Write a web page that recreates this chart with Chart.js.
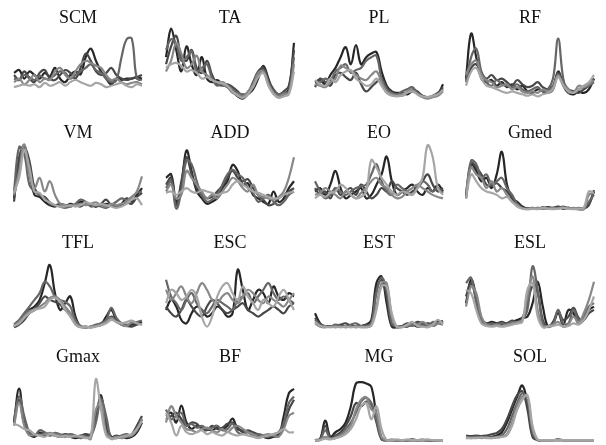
<!DOCTYPE html>
<html>
<head>
<meta charset="utf-8">
<script src="https://cdn.jsdelivr.net/npm/chart.js@4"></script>
<style>
  html, body { margin: 0; padding: 0; background: #fff; }
  #wrap { position: relative; width: 606px; height: 445px; overflow: hidden; }
  #wrap canvas { position: absolute; }
</style>
</head>
<body>
<div id="wrap"></div>
<script>
// % of gait cycle, one sample every 4%
const cycle = [0,4,8,12,16,20,24,28,32,36,40,44,48,52,56,60,64,68,72,76,80,84,88,92,96,100];

const muscles = ['SCM','TA','PL','RF','VM','ADD','EO','Gmed','TFL','ESC','EST','ESL','Gmax','BF','MG','SOL'];

// normalised activation (0-100) per subject, five subjects per muscle
const SCM = [
  [38,42,30,40,35,30,38,33,45,30,25,35,40,36,60,72,55,40,30,22,30,28,30,30,32,30],
  [35,28,40,30,25,38,42,30,28,35,42,38,30,45,65,55,40,35,38,45,35,30,28,30,32,35],
  [30,28,35,32,28,34,30,30,35,40,38,30,35,40,45,50,42,38,30,25,28,60,85,86,30,28],
  [25,30,22,28,35,25,30,28,40,45,35,30,40,50,55,52,48,45,35,28,30,25,22,24,25,22],
  [18,20,22,20,22,18,24,20,22,25,20,25,28,25,22,20,24,22,18,20,22,24,20,18,22,20]
];
const TA = [
  [60,100,70,40,75,50,35,60,30,25,28,22,18,12,5,2,8,15,30,48,30,10,5,8,15,80],
  [50,75,90,60,55,70,45,38,55,35,22,20,22,18,12,5,10,25,40,45,28,15,8,12,20,70],
  [70,85,78,55,60,68,40,45,50,30,20,25,20,15,10,8,10,20,35,42,25,12,8,10,12,60],
  [40,55,80,65,45,50,62,40,35,28,25,22,18,10,8,5,12,22,38,40,22,10,5,8,10,50],
  [45,50,52,48,40,42,38,30,32,28,25,24,20,12,6,3,8,18,32,38,20,8,3,5,8,40]
];
const PL = [
  [25,28,22,35,45,60,74,50,77,50,60,65,67,40,20,12,10,10,8,12,10,6,4,5,8,22],
  [18,30,25,20,35,38,32,28,38,22,12,18,25,30,18,10,8,6,10,15,12,5,3,6,10,18],
  [20,25,30,28,40,45,50,38,42,45,55,60,62,30,15,10,8,12,15,18,10,5,3,5,8,15],
  [22,20,18,25,30,48,45,40,35,30,28,35,40,25,12,8,6,8,12,14,8,4,2,4,6,12],
  [28,22,20,30,25,35,40,42,30,25,20,22,30,20,10,6,5,6,10,12,8,5,4,6,8,14]
];
const RF = [
  [30,93,60,30,25,28,20,25,18,22,15,20,12,10,15,12,10,15,40,20,10,8,12,10,15,30],
  [28,45,50,38,30,35,28,30,25,20,28,22,18,20,25,18,15,20,38,25,15,12,10,15,20,30],
  [25,60,72,40,25,20,28,22,20,18,22,15,12,15,18,12,15,30,86,30,10,12,15,18,20,25],
  [35,50,55,35,28,25,18,20,22,15,18,12,10,12,10,15,12,18,35,22,15,10,20,18,22,28],
  [20,40,45,30,20,18,15,12,10,12,10,8,6,8,5,8,10,15,32,20,12,10,15,20,25,35]
];
const VM = [
  [20,70,98,60,25,22,15,10,8,10,8,12,10,15,12,10,8,10,12,10,8,12,20,15,25,35],
  [15,80,95,75,35,25,22,14,10,12,10,8,10,8,12,10,8,12,18,10,8,10,14,12,22,28],
  [30,95,85,40,30,25,20,12,10,8,6,8,12,18,15,8,10,8,6,10,15,20,18,22,28,30],
  [25,60,99,55,35,50,30,45,25,12,10,8,10,12,10,12,14,10,8,12,10,12,15,22,30,52],
  [28,50,90,65,30,28,18,14,10,8,8,10,8,10,14,12,10,12,10,8,6,8,12,18,20,10]
];
const ADD = [
  [50,55,15,40,90,60,30,20,12,15,20,35,45,69,60,40,42,25,20,15,12,30,15,20,35,45],
  [40,50,10,45,80,55,35,25,20,22,30,38,50,60,50,45,48,35,25,18,10,12,20,25,30,35],
  [35,45,5,30,75,70,45,25,15,18,25,40,55,62,55,50,35,28,15,20,25,15,10,15,25,30],
  [30,40,20,25,60,50,40,30,20,25,20,30,40,50,45,35,30,40,25,22,20,18,22,30,50,80],
  [28,30,25,30,35,30,28,32,30,28,25,28,30,40,45,40,35,30,28,25,22,20,20,25,28,30]
];
const EO = [
  [30,35,25,40,60,35,20,25,30,35,20,25,40,55,81,45,25,30,35,40,30,25,35,30,40,30],
  [35,25,30,20,35,25,30,35,25,40,30,20,25,35,30,45,35,30,25,30,35,45,55,40,30,35],
  [45,30,20,25,35,30,25,30,35,38,40,55,70,45,30,25,40,35,30,25,38,45,40,30,35,28],
  [25,28,35,30,25,20,30,25,20,28,35,45,50,40,35,25,20,22,30,35,40,35,30,25,22,20],
  [20,25,22,28,30,40,35,25,20,22,30,76,65,50,40,30,25,30,28,25,35,50,98,80,35,25]
];
const Gmed = [
  [20,70,60,45,50,35,55,88,40,20,15,8,5,5,6,5,7,6,8,5,6,5,4,5,12,30],
  [22,72,65,55,40,38,42,35,30,20,10,6,5,6,5,6,5,6,7,5,6,5,6,5,10,32],
  [25,75,70,50,55,40,45,50,35,25,12,6,5,6,5,7,6,5,6,8,6,5,5,6,15,25],
  [30,65,55,50,35,45,30,35,25,15,10,5,4,5,6,5,5,6,5,6,5,6,5,4,25,28],
  [20,55,45,35,30,28,25,20,22,15,8,5,4,5,4,6,5,4,5,6,5,4,5,6,30,28]
];
const TFL = [
  [5,10,20,30,35,45,70,97,55,30,40,50,20,5,5,4,6,8,20,30,15,8,6,8,10,12],
  [4,8,15,25,30,40,50,45,42,38,30,25,10,5,4,5,6,10,14,20,15,8,6,5,8,10],
  [8,15,25,35,45,55,72,65,50,45,42,35,15,6,4,5,8,10,15,33,18,10,8,10,12,14],
  [5,12,20,28,30,35,40,48,50,45,35,25,10,5,4,5,6,8,12,18,12,8,6,12,10,8],
  [6,10,18,25,30,32,35,45,48,42,30,20,8,4,5,4,5,7,10,15,12,10,12,14,10,8]
];
const ESC = [
  [30,45,35,15,10,25,35,30,20,25,35,30,20,25,90,60,30,45,60,55,40,65,50,45,55,50],
  [35,25,20,30,45,35,25,20,35,45,40,30,25,30,35,40,30,25,20,25,30,35,30,25,35,40],
  [75,50,40,30,45,55,40,30,25,35,45,40,35,30,45,50,55,40,50,60,70,55,45,50,45,40],
  [60,45,55,65,50,40,55,70,60,45,40,50,55,45,40,50,60,55,45,40,50,45,40,35,45,55],
  [40,60,55,45,50,60,50,20,5,20,50,65,70,55,45,65,50,40,30,45,40,35,50,60,45,30]
];
const EST = [
  [25,10,5,6,5,6,5,6,5,6,8,15,70,80,40,5,4,6,5,8,5,6,10,8,12,10],
  [18,8,6,5,6,8,10,6,5,6,8,10,60,75,50,8,5,6,10,8,12,10,8,6,10,14],
  [15,8,6,5,8,6,5,8,10,6,5,10,55,78,60,10,5,5,8,6,10,8,6,12,10,8],
  [10,5,4,5,4,5,4,5,4,5,5,8,35,70,70,20,4,5,6,10,8,12,8,6,10,12],
  [12,6,5,4,5,4,5,4,5,4,4,6,30,65,65,25,5,4,8,12,6,5,4,8,15,8]
];
const ESL = [
  [40,75,50,15,10,12,10,8,10,12,15,18,20,40,72,35,5,10,25,8,30,25,10,15,30,35],
  [50,70,45,15,10,8,10,12,10,14,12,18,40,65,55,15,5,12,28,15,20,33,18,15,25,30],
  [70,78,40,12,8,10,8,10,8,12,10,15,30,95,60,10,5,8,30,10,10,30,15,20,35,40],
  [35,65,55,20,8,6,8,6,8,10,12,15,50,80,30,5,6,8,12,5,8,20,10,25,45,72],
  [60,55,30,10,6,5,6,5,6,8,10,12,60,70,20,4,5,6,8,5,6,10,8,15,30,50]
];
const Gmax = [
  [30,82,30,12,8,15,10,12,10,8,10,8,6,8,10,10,35,72,20,8,6,8,6,8,15,30],
  [30,65,28,14,10,12,14,10,12,10,12,10,8,10,12,12,40,68,30,8,10,8,10,12,25,40],
  [35,70,40,15,10,18,15,10,14,12,10,12,10,6,8,10,30,65,40,5,8,10,12,10,20,35],
  [25,60,25,10,12,10,12,14,12,10,8,10,8,10,8,5,50,60,15,6,8,6,8,10,18,36],
  [28,25,20,18,12,10,8,12,10,8,10,8,10,8,6,8,97,50,10,5,6,8,10,12,20,32]
];
const BF = [
  [40,45,30,56,30,20,25,22,20,18,22,20,25,36,20,18,15,12,10,8,6,8,10,40,75,82],
  [35,40,45,35,25,30,28,20,18,25,20,22,28,30,22,15,18,15,12,10,8,10,12,25,50,65],
  [50,35,40,45,25,28,22,25,20,22,25,18,20,28,15,12,15,10,12,10,8,12,15,30,60,70],
  [30,55,40,30,20,18,15,20,22,18,15,20,15,22,25,20,15,12,8,10,12,10,8,20,40,45],
  [45,30,10,25,15,12,15,18,12,15,12,10,15,12,10,12,10,8,6,8,10,12,15,20,15,15]
];
const MG = [
  [3,5,33,8,15,20,30,55,90,92,90,85,40,5,3,3,3,3,3,4,3,3,3,3,3,3],
  [3,4,25,6,10,15,25,40,60,55,62,58,30,4,3,3,3,3,3,3,3,3,3,3,3,3],
  [2,4,18,5,8,12,20,30,45,62,68,60,35,5,2,3,2,3,2,3,2,3,2,2,3,3],
  [3,3,8,5,6,10,15,25,50,65,69,50,45,8,3,4,3,3,3,2,3,4,3,3,2,3],
  [2,3,5,4,6,8,12,20,35,55,60,35,55,20,3,3,4,3,4,3,3,3,4,3,3,3]
];
const SOL = [
  [8,8,7,8,7,8,10,15,30,50,70,87,60,10,3,3,3,3,4,3,3,3,3,3,3,3],
  [10,9,10,9,10,12,14,20,35,55,72,78,50,8,3,3,3,3,3,3,3,3,3,3,3,3],
  [6,7,8,7,8,7,8,10,20,40,60,75,65,15,3,3,3,3,3,3,3,3,3,3,3,3],
  [8,6,7,6,7,6,7,8,12,30,55,70,70,20,3,3,3,3,3,3,3,3,3,3,3,3],
  [6,6,6,7,6,6,7,8,10,25,50,65,72,25,4,3,3,3,3,3,3,3,3,3,3,3]
];

const panels = [SCM, TA, PL, RF, VM, ADD, EO, Gmed, TFL, ESC, EST, ESL, Gmax, BF, MG, SOL];
const greys = ['#262626', '#474747', '#666666', '#888888', '#a6a6a6'];

// layout of the 4x4 grid (pixels)
const colLeft = [14, 166, 315, 466];
const plotW = 128;
const titleMid = [17.5, 132.5, 242.5, 356.5];
const plotTop = [28, 142, 263, 377];
const plotBottom = [100, 212, 330, 442];
const padX = 10, padBottom = 4;
const titleSize = 18, titleLine = titleSize * 1.2;

const wrap = document.getElementById('wrap');

panels.forEach((series, i) => {
  const r = Math.floor(i / 4), c = i % 4;
  const top = Math.round(titleMid[r] - 2 - titleLine / 2);
  const canvas = document.createElement('canvas');
  canvas.width = plotW + padX * 2;
  canvas.height = plotBottom[r] + padBottom - top;
  canvas.style.left = (colLeft[c] - padX) + 'px';
  canvas.style.top = top + 'px';
  wrap.appendChild(canvas);

  const titleGap = Math.max(0, plotTop[r] - (top + 2 + titleLine));

  new Chart(canvas.getContext('2d'), {
    type: 'line',
    data: {
      labels: cycle,
      datasets: series.map((vals, k) => ({
        data: vals,
        borderColor: greys[k],
        borderWidth: 2.2,
        pointRadius: 0,
        tension: 0.4,
        fill: false,
        clip: false
      })).reverse()
    },
    options: {
      responsive: false,
      animation: false,
      layout: { padding: { left: padX, right: padX, top: 0, bottom: padBottom } },
      plugins: {
        legend: { display: false },
        tooltip: { enabled: false },
        title: {
          display: true,
          text: muscles[i],
          color: '#111',
          font: { family: '"Liberation Serif", "Times New Roman", serif', size: titleSize, weight: 'normal', lineHeight: 1.2 },
          padding: { top: 2, bottom: titleGap }
        }
      },
      scales: {
        x: { display: false, offset: false },
        y: { display: false, min: 0, max: 100 }
      }
    }
  });
});
</script>
</body>
</html>
